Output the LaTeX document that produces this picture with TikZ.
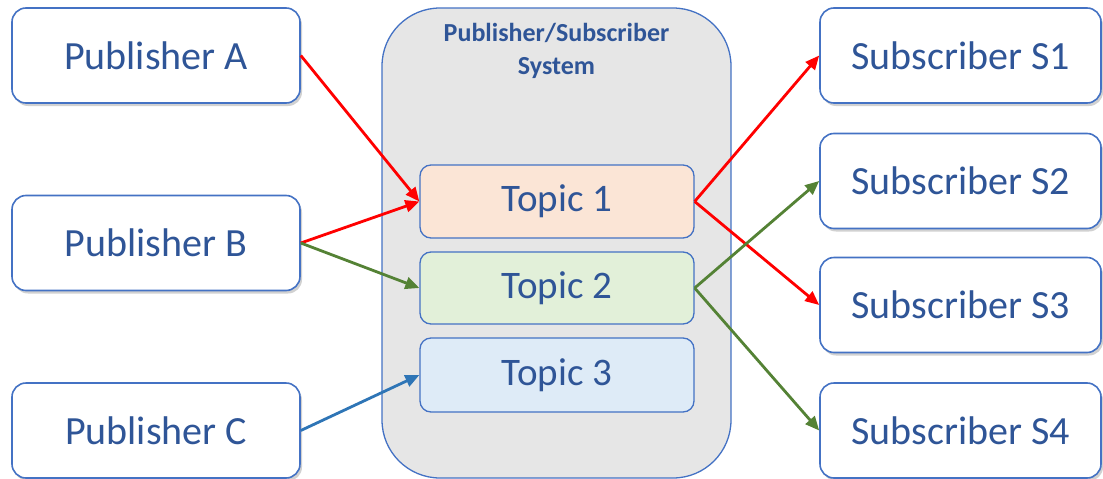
\documentclass[tikz,border=0pt]{standalone}
\usepackage{fontspec}
\setmainfont{Carlito}
\usetikzlibrary{arrows.meta,shadows}
\definecolor{bord}{HTML}{4472C4}
\definecolor{txt}{HTML}{2F5597}
\definecolor{sysfill}{HTML}{E6E6E6}
\definecolor{t1fill}{HTML}{FBE5D6}
\definecolor{t2fill}{HTML}{E2F0D9}
\definecolor{t3fill}{HTML}{DEEBF7}
\definecolor{ared}{HTML}{FF0000}
\definecolor{agreen}{HTML}{548235}
\definecolor{ablue}{HTML}{2E75B6}
\tikzset{
  pbox/.style={draw=bord, line width=1.6pt, fill=white, rounded corners=14pt,
    minimum width=288pt, minimum height=95pt, inner sep=0pt, text=txt,
    font=\fontsize{40}{48}\selectfont,
    drop shadow={shadow xshift=2pt, shadow yshift=-3pt, opacity=0.18, fill=black}},
  sbox/.style={pbox, minimum width=281pt},
  tbox/.style={draw=bord, line width=1.3pt, rounded corners=11pt,
    minimum width=274pt, inner sep=0pt, text=txt,
    font=\fontsize{39}{46}\selectfont},
  sysbox/.style={draw=bord, line width=1.3pt, fill=sysfill, rounded corners=58pt,
    minimum width=349pt, minimum height=470pt, inner sep=0pt},
  systitle/.style={text=txt, align=center, font=\bfseries\fontsize{26}{33}\selectfont},
  conn/.style={line width=2.8pt, -{Triangle[length=14pt,width=12pt]}},
}
\begin{document}
\begin{tikzpicture}[x=1pt,y=-1pt]
\useasboundingbox (0,0) rectangle (1103,479);
% system container
\node[sysbox] (sys) at (556.5,243) {};
\node[systitle] (title) at (556.5,51) {Publisher/Subscriber\\System};
% topics
\node[tbox, fill=t1fill, minimum height=73pt] (t1) at (557,201.5) {Topic 1};
\node[tbox, fill=t2fill, minimum height=72pt] (t2) at (557,288) {Topic 2};
\node[tbox, fill=t3fill, minimum height=74pt] (t3) at (557,375) {Topic 3};
% publishers
\node[pbox] (pa) at (156,55.5) {Publisher A};
\node[pbox] (pb) at (156,243) {Publisher B};
\node[pbox] (pc) at (156,430.5) {Publisher C};
% subscribers
\node[sbox] (s1) at (960.5,55.5) {Subscriber S1};
\node[sbox] (s2) at (960.5,181) {Subscriber S2};
\node[sbox] (s3) at (960.5,305) {Subscriber S3};
\node[sbox] (s4) at (960.5,430.5) {Subscriber S4};
% connectors
\draw[conn, ared] (pa.east) -- (t1.west);
\draw[conn, ared] (pb.east) -- (t1.west);
\draw[conn, agreen] (pb.east) -- (t2.west);
\draw[conn, ablue] (pc.east) -- (t3.west);
\draw[conn, ared] (t1.east) -- (s1.west);
\draw[conn, ared] (t1.east) -- (s3.west);
\draw[conn, agreen] (t2.east) -- (s2.west);
\draw[conn, agreen] (t2.east) -- (s4.west);
\end{tikzpicture}
\end{document}
